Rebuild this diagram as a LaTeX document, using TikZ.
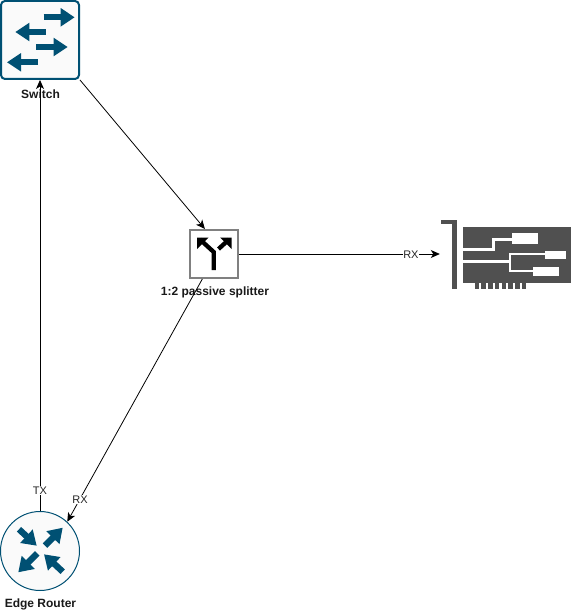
\documentclass[tikz,border=0pt]{standalone}
\usepackage{fontspec}
\setmainfont{Liberation Sans}
\usetikzlibrary{arrows.meta}
\definecolor{ciscoblue}{HTML}{005073}
\definecolor{nicgray}{HTML}{505050}
\tikzset{
  link/.style={draw=black,line width=0.8pt,-{Stealth[length=9pt,width=8pt,inset=2.5pt]}},
  linklabel/.style={fill=white,inner sep=0.5pt,yshift=-0.7pt,font=\fontsize{11}{13}\selectfont,text=black!85},
  caption/.style={font=\fontsize{12}{14}\selectfont\bfseries,text=black!90,inner sep=0pt},
  flow/.style={ciscoblue,line width=6.3pt,-{Triangle[length=14pt,width=17.5pt]}},
  trace/.style={white,line width=2.8pt},
  forkline/.style={black,line width=4.3pt}
}
\begin{document}
\begin{tikzpicture}[x=1pt,y=-1pt]
\useasboundingbox (0,0) rectangle (571,612);
% main shapes
\node[draw=ciscoblue,fill=black!2,line width=2pt,rounded corners=4pt,minimum width=78pt,minimum height=78pt,inner sep=0pt] (sw) at (40,40) {};
\node[draw=ciscoblue,fill=black!2,line width=1pt,circle,minimum size=79pt,inner sep=0pt] (rt) at (40,551) {};
\node[draw=black!50,fill=white,line width=2pt,minimum width=48pt,minimum height=48pt,inner sep=0pt] (sp) at (214,254) {};
\node[minimum width=131pt,minimum height=72pt,inner sep=0pt] (nic) at (505.5,254) {};
% captions
\node[caption] (swl) at (40.5,94) {Switch};
\node[caption] (spl) at (215,292) {1:2 passive splitter};
\node[caption] (rtl) at (40.5,604) {Edge Router};
% connectors
\draw[link] (sw.south east) -- (sp.110.6);
\draw[link] (sp.east) -- node[linklabel,pos=0.856] (rx1) {RX} (nic.west);
\draw[link] (sp.245.4) -- node[linklabel,pos=0.906] (rx2) {RX} (rt.47);
\draw[link] (rt.north) -- node[linklabel,pos=0.049] (tx) {TX} (sw.south);
% switch icon
\draw[flow] (43.7,17.3) -- (74.7,17.3);
\draw[flow] (45.7,32) -- (15.3,32);
\draw[flow] (36,47) -- (67.7,47);
\draw[flow] (38,62.3) -- (7,62.3);
% router icon
\draw[flow] (19,529.3) -- (36.7,545.7);
\draw[flow] (45,545.7) -- (62.7,527.7);
\draw[flow] (37.3,553.3) -- (18.3,572.3);
\draw[flow] (62.7,571.7) -- (44,554.3);
% splitter icon
\draw[forkline] (213.7,270) -- (213.7,252) -- (200,239.5);
\draw[forkline] (218.5,249) -- (229,239.5);
\fill (197,237.5) -- (208.5,237.5) -- (197,249) -- cycle;
\fill (231.5,237.5) -- (220,237.5) -- (231.5,249) -- cycle;
% NIC icon
\fill[nicgray] (440.7,220) rectangle (457.3,224);
\fill[nicgray] (452.3,220) rectangle (457.3,289.3);
\fill[nicgray] (462.7,227.3) rectangle (570.7,282.7);
\foreach \tx in {474.7,481.4,488.1,494.8,501.5,508.2,514.9,521.6}
  \fill[nicgray] (\tx,282) rectangle (\tx+4.6,289.3);
\draw[trace] (462.7,249.3) -- (493.5,249.3) -- (493.5,239.3) -- (512.3,239.3);
\draw[trace] (462.7,261.7) -- (510,261.7) -- (510,254) -- (545,254);
\draw[trace] (510,261.7) -- (510,271) -- (532.7,271);
\fill[white] (512.3,233.3) rectangle (538,244.3);
\fill[white] (545,251) rectangle (565.7,259.3);
\fill[white] (532.7,267.3) rectangle (558.7,276);
\end{tikzpicture}
\end{document}
